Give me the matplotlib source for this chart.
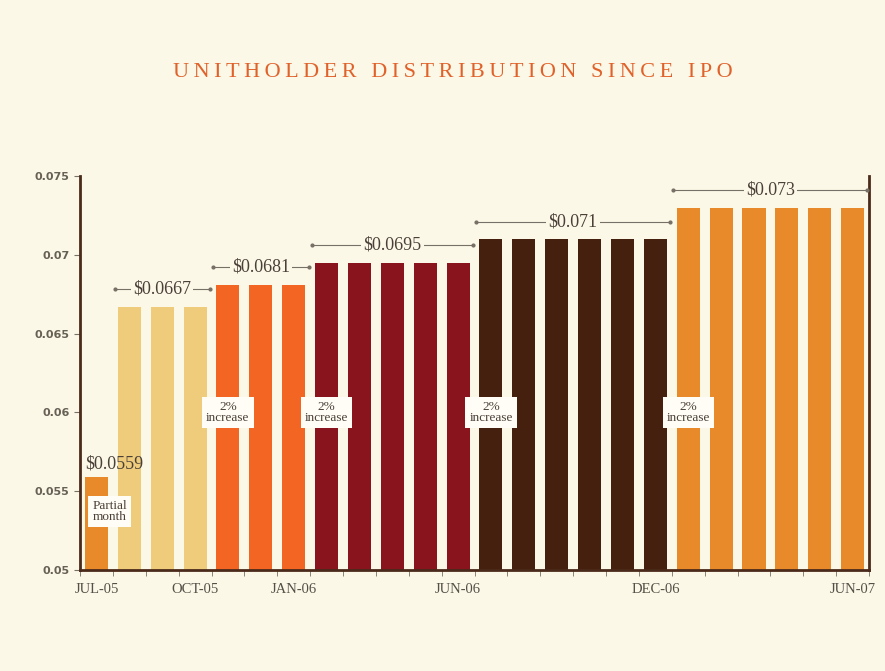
import matplotlib.pyplot as plt
import numpy as np

# monthly distribution per unit, Jul-05 .. Jun-07
values = [0.0559,
          0.0667, 0.0667, 0.0667,
          0.0681, 0.0681, 0.0681,
          0.0695, 0.0695, 0.0695, 0.0695, 0.0695,
          0.071, 0.071, 0.071, 0.071, 0.071, 0.071,
          0.073, 0.073, 0.073, 0.073, 0.073, 0.073]
groups = [0, 1, 1, 1, 2, 2, 2, 3, 3, 3, 3, 3, 4, 4, 4, 4, 4, 4, 5, 5, 5, 5, 5, 5]
tick_pos = [0, 3, 6, 11, 17, 23]
tick_labels = ["JUL-05", "OCT-05", "JAN-06", "JUN-06", "DEC-06", "JUN-07"]
# bracket labels: (first bar, last bar, text)
brackets = [(1, 3, "$0.0667"), (4, 6, "$0.0681"), (7, 11, "$0.0695"),
            (12, 17, "$0.071"), (18, 23, "$0.073")]
increase_at = [4, 7, 12, 18]
title = "UNITHOLDER DISTRIBUTION SINCE IPO"

bg = "#FCF8E8"
colors = ["#E8892A", "#EFCC7C", "#F26522", "#8A141E", "#45200F", "#E8892A"]
serif = ["Liberation Serif", "DejaVu Serif"]
ink = "#4A4038"

fig = plt.figure(figsize=(8.85, 6.71), dpi=100, facecolor=bg)
ax = fig.add_axes([0.0904, 0.1505, 0.8916, 0.5872], facecolor=bg)

x = np.arange(len(values))
ax.bar(x, [v - 0.05 for v in values], bottom=0.05, width=0.7,
       color=[colors[g] for g in groups], zorder=2)

ax.set_xlim(-0.5, len(values) - 0.5)
ax.set_ylim(0.05, 0.075)
ax.set_yticks([0.05, 0.055, 0.06, 0.065, 0.07, 0.075])
ax.set_yticklabels(["0.05", "0.055", "0.06", "0.065", "0.07", "0.075"],
                   fontsize=8, color="#666055", fontweight="bold")
ax.set_xticks(np.arange(len(values) + 1) - 0.5, minor=True)
ax.set_xticks(tick_pos)
ax.set_xticklabels(tick_labels, fontsize=10.5, color="#555046", family=serif)
ax.tick_params(axis="x", which="major", length=0, pad=9)
ax.tick_params(axis="x", which="minor", length=4, color="#777066", direction="out")
ax.tick_params(axis="y", length=4, color="#777066", direction="out")

ax.spines["top"].set_visible(False)
for s in ["left", "right", "bottom"]:
    ax.spines[s].set_color("#4A2A1A")
    ax.spines[s].set_linewidth(2)

# price brackets
for a, b, txt in brackets:
    yb = values[a] + 0.0011
    ax.plot([a - 0.45, b + 0.45], [yb, yb], color="#777066", lw=0.8,
            marker="o", markersize=2, zorder=3)
    ax.text((a + b) / 2, yb, txt, ha="center", va="center", fontsize=13,
            color=ink, family=serif, zorder=4,
            bbox=dict(boxstyle="square,pad=0.12", fc=bg, ec="none"))

ax.text(-0.33, values[0] + 0.0003, "$0.0559", ha="left", va="bottom",
        fontsize=13, color=ink, family=serif, zorder=4)
ax.text(0.4, 0.0537, "Partial\nmonth", ha="center", va="center", fontsize=9.5,
        color=ink, family=serif, linespacing=0.95, zorder=4,
        bbox=dict(boxstyle="square,pad=0.3", fc="#FFFDF5", ec="none"))

for i in increase_at:
    ax.text(i, 0.06, "2%\nincrease", ha="center", va="center", fontsize=9.5,
            color=ink, family=serif, linespacing=0.95, zorder=4,
            bbox=dict(boxstyle="square,pad=0.3", fc="#FFFDF5", ec="none"))

fig.text(0.512, 0.892, "\u2009".join(title), ha="center",
         va="center", fontsize=16, color="#E0622A", family=serif)

fig.savefig("out.png", dpi=100, facecolor=bg)
